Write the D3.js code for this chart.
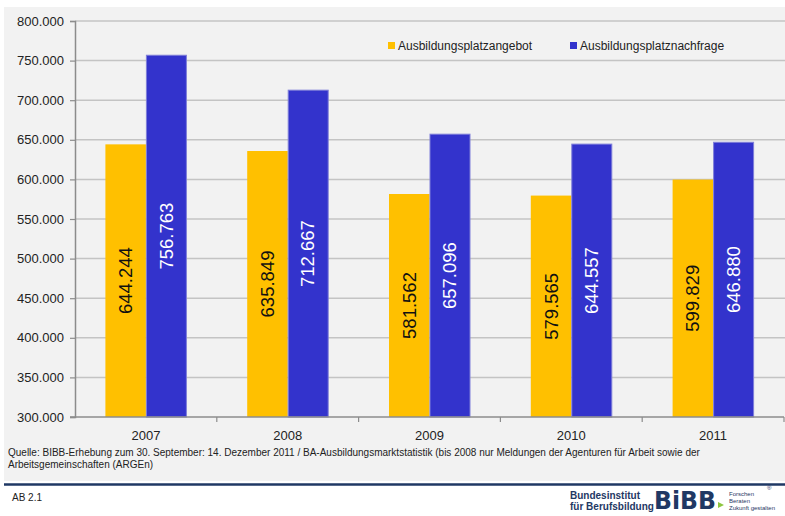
<!DOCTYPE html>
<html>
<head>
<meta charset="utf-8">
<script src="https://cdn.jsdelivr.net/npm/d3@7"></script>
<style>
  body { margin: 0; background: #fff; }
  svg { display: block; font-family: Arial, "Liberation Sans", sans-serif; }
</style>
</head>
<body>
<div id="chart"></div>
<script>
// Daten
const years = ["2007", "2008", "2009", "2010", "2011"];
const angebot = [644244, 635849, 581562, 579565, 599829];
const nachfrage = [756763, 712667, 657096, 644557, 646880];
const seriesNames = ["Ausbildungsplatzangebot", "Ausbildungsplatznachfrage"];
const yTicks = [300000, 350000, 400000, 450000, 500000, 550000, 600000, 650000, 700000, 750000, 800000];

const W = 785, H = 516;
const colors = ["#ffc000", "#3333cc"];

const fmt = (v) => d3.format(",")(v).replace(/,/g, ".");

const svg = d3.select("#chart").append("svg")
  .attr("width", W)
  .attr("height", H);

// hintergrund
svg.append("rect").attr("x", 4).attr("y", 7).attr("width", W - 4).attr("height", 474).attr("fill", "#f2f2f2");
svg.append("line").attr("x1", 4).attr("x2", W).attr("y1", 484.5).attr("y2", 484.5)
  .attr("stroke", "#1f3864").attr("stroke-width", 2.5);

const x0 = d3.scaleBand().domain(years).range([75, 784]);
const x1 = d3.scaleBand().domain([0, 1]).range([0, 81]);
const y = d3.scaleLinear().domain([300000, 800000]).range([417, 21]);

// gitternetz
svg.append("g")
  .selectAll("line")
  .data(yTicks.slice(1))
  .enter()
  .append("line")
  .attr("x1", 75).attr("x2", W)
  .attr("y1", (d) => y(d)).attr("y2", (d) => y(d))
  .attr("stroke", "#c4c4c4").attr("stroke-width", 1.5);

// y achse
const yAxis = svg.append("g")
  .attr("transform", "translate(75,0)")
  .call(d3.axisLeft(y).tickValues(yTicks).tickFormat(fmt).tickSize(5).tickPadding(6));
yAxis.select(".domain").attr("stroke", "#8c8c8c").attr("stroke-width", 1.5);
yAxis.selectAll(".tick line").attr("stroke", "#8c8c8c").attr("stroke-width", 1.2);
yAxis.selectAll("text").attr("font-size", 13).attr("fill", "#222");

// balken
const groups = svg.append("g")
  .selectAll("g")
  .data(years)
  .enter()
  .append("g")
  .attr("transform", (d) => "translate(" + (x0(d) + x0.bandwidth() / 2 - 40.5) + ",0)");

groups.selectAll("rect")
  .data((d, i) => [angebot[i], nachfrage[i]])
  .enter()
  .append("rect")
  .attr("x", (d, j) => x1(j) + (j == 1 ? 0.5 : 0))
  .attr("y", (d) => y(d))
  .attr("width", (d, j) => x1.bandwidth() - (j == 1 ? 0.5 : 0))
  .attr("height", (d) => 417 - y(d))
  .attr("fill", (d, j) => colors[j])
  .attr("stroke", (d, j) => (j == 1 ? "#7f7fd9" : "none"))
  .attr("stroke-width", 1);

groups.selectAll("text")
  .data((d, i) => [angebot[i], nachfrage[i]])
  .enter()
  .append("text")
  .attr("transform", (d, j) =>
    "translate(" + (x1(j) + x1.bandwidth() / 2 + 6.5) + "," + (y(d) + 417) / 2 + ") rotate(-90)")
  .attr("text-anchor", "middle")
  .attr("font-size", 18.5)
  .attr("fill", (d, j) => (j == 1 ? "#fff" : "#111"))
  .text(fmt);

// x achse
const xAxis = svg.append("g")
  .attr("transform", "translate(0,417)")
  .call(d3.axisBottom(x0).tickSize(0).tickPadding(14));
xAxis.select(".domain").remove();
xAxis.selectAll("text").attr("font-size", 13).attr("fill", "#222");
svg.append("line").attr("x1", 70).attr("x2", 784).attr("y1", 417).attr("y2", 417)
  .attr("stroke", "#8c8c8c").attr("stroke-width", 1.5);
svg.append("g")
  .selectAll("line")
  .data(years)
  .enter()
  .append("line")
  .attr("x1", (d) => x0(d) + x0.bandwidth()).attr("x2", (d) => x0(d) + x0.bandwidth())
  .attr("y1", 417).attr("y2", 422)
  .attr("stroke", "#8c8c8c").attr("stroke-width", 1.2);

// legende
const legendX = [388, 570];
const legend = svg.append("g")
  .selectAll("g")
  .data(seriesNames)
  .enter()
  .append("g")
  .attr("transform", (d, i) => "translate(" + legendX[i] + ",41)");
legend.append("rect").attr("width", 7).attr("height", 7).attr("y", 1).attr("fill", (d, i) => colors[i]);
legend.append("text").attr("x", 10).attr("y", 9).attr("font-size", 12).attr("fill", "#222").text((d) => d);

// quelle
const src = svg.append("text").attr("font-size", 10).attr("fill", "#222").attr("font-family", "'Liberation Sans Narrow', Arial, sans-serif");
src.append("tspan").attr("x", 8).attr("y", 456)
  .text("Quelle: BIBB-Erhebung zum 30. September: 14. Dezember 2011 / BA-Ausbildungsmarktstatistik (bis 2008 nur Meldungen der Agenturen für Arbeit sowie der");
src.append("tspan").attr("x", 8).attr("y", 468).text("Arbeitsgemeinschaften (ARGEn)");

svg.append("text").attr("x", 12).attr("y", 501).attr("font-size", 10).attr("fill", "#222")
  .attr("font-family", "'Liberation Sans Narrow', Arial, sans-serif").text("AB 2.1");

// logo
const logo = svg.append("g").attr("fill", "#1f3864");
logo.append("text").attr("x", 570).attr("y", 499).attr("font-size", 10).attr("font-weight", "bold")
  .attr("font-family", "'Liberation Sans Narrow', Arial, sans-serif").text("Bundesinstitut");
logo.append("text").attr("x", 570).attr("y", 510).attr("font-size", 10).attr("font-weight", "bold")
  .attr("font-family", "'Liberation Sans Narrow', Arial, sans-serif").text("für Berufsbildung");
logo.append("text").attr("x", 654).attr("y", 509).attr("font-size", 24).attr("font-weight", "bold")
  .attr("font-family", "'DejaVu Sans', Arial, sans-serif").attr("textLength", 62)
  .attr("lengthAdjust", "spacingAndGlyphs").text("BiBB");
logo.append("path").attr("d", "M718,502 L724,505 L718,508 Z").attr("fill", "#8dc63f");
const small = logo.append("text").attr("font-size", 6).attr("font-family", "'Liberation Sans Narrow', Arial, sans-serif");
small.append("tspan").attr("x", 729).attr("y", 496).text("Forschen");
small.append("tspan").attr("x", 729).attr("y", 503).text("Beraten");
small.append("tspan").attr("x", 729).attr("y", 510).text("Zukunft gestalten");
logo.append("text").attr("x", 767).attr("y", 490).attr("font-size", 6).text("®");
</script>
</body>
</html>
